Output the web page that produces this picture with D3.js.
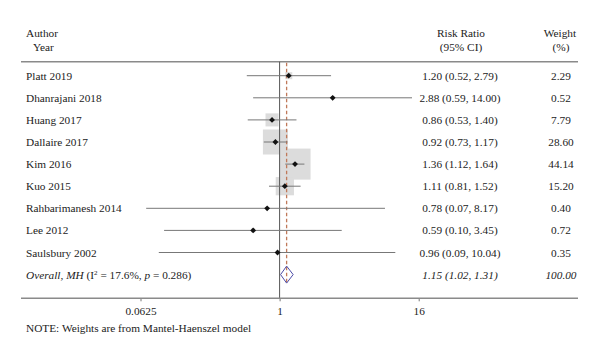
<!DOCTYPE html>
<html><head><meta charset="utf-8">
<script src="https://cdn.jsdelivr.net/npm/d3@7"></script>
<style>body{margin:0;background:#fff}</style>
</head><body>
<svg id="c" width="600" height="357"></svg>
<script>
const studies = ["Platt 2019","Dhanrajani 2018","Huang 2017","Dallaire 2017","Kim 2016","Kuo 2015","Rahbarimanesh 2014","Lee 2012","Saulsbury 2002"];
const rr    = [1.20, 2.88, 0.86, 0.92, 1.36, 1.11, 0.78, 0.59, 0.96];
const lower = [0.52, 0.59, 0.53, 0.73, 1.12, 0.81, 0.07, 0.10, 0.09];
const upper = [2.79, 14.00, 1.40, 1.17, 1.64, 1.52, 8.17, 3.45, 10.04];
const weights = [2.29, 0.52, 7.79, 28.60, 44.14, 15.20, 0.40, 0.72, 0.35];
const overall = {rr:1.15, lower:1.02, upper:1.31, weight:100.00};
const tickValues = [0.0625, 1, 16];
const tickLabels = ["0.0625","1","16"];

const svg = d3.select("#c");
const font = "'Liberation Serif', 'DejaVu Serif', serif";
const fs = 11.3;
const txtCol = "#222";

const x = d3.scaleLog().base(2).domain([0.0625,16]).range([140.5,418.7]);
const rowY = d3.scaleLinear().domain([0,1]).range([75.7,97.8]);
const yAxis = 298.3, yTop = 61.7;
const nRows = studies.length;

function text(t, xx, yy, anchor, style){
  return svg.append("text").attr("x",xx).attr("y",yy).attr("text-anchor",anchor||"start")
    .attr("font-family",font).attr("font-size",fs).attr("fill",txtCol)
    .attr("font-style",style||"normal").text(t);
}

// header
text("Author",26,37);
text("Year",33,51);
text("Risk Ratio",461,37,"middle");
text("(95% CI)",461,51,"middle");
text("Weight",560,37,"middle");
text("(%)",561,51,"middle");

// rules
svg.append("line").attr("x1",21).attr("x2",578).attr("y1",yTop).attr("y2",yTop)
  .attr("stroke","#8a8a8a").attr("stroke-width",1.5);

// boxes
const boxK = 25/Math.sqrt(28.6);
svg.append("g").selectAll("rect").data(studies).join("rect")
  .attr("x",(d,i)=>x(rr[i])-boxK*Math.sqrt(weights[i])/2)
  .attr("y",(d,i)=>rowY(i)-boxK*Math.sqrt(weights[i])/2)
  .attr("width",(d,i)=>boxK*Math.sqrt(weights[i]))
  .attr("height",(d,i)=>boxK*Math.sqrt(weights[i]))
  .attr("fill","#dcdcdc");

// null line
svg.append("line").attr("x1",x(1)).attr("x2",x(1)).attr("y1",yTop).attr("y2",yAxis)
  .attr("stroke","#555").attr("stroke-width",1);
// overall dashed line
svg.append("line").attr("x1",x(overall.rr)).attr("x2",x(overall.rr)).attr("y1",yTop+1).attr("y2",rowY(nRows)+10)
  .attr("stroke","#c0795a").attr("stroke-width",1.3).attr("stroke-dasharray","3.5,2.5");

// CI lines
svg.append("g").selectAll("line").data(studies).join("line")
  .attr("x1",(d,i)=>x(lower[i])).attr("x2",(d,i)=>x(upper[i]))
  .attr("y1",(d,i)=>rowY(i)).attr("y2",(d,i)=>rowY(i))
  .attr("stroke","#777").attr("stroke-width",1);

// point markers
const sym = d3.symbol().type(d3.symbolSquare).size(17);
svg.append("g").selectAll("path").data(studies).join("path")
  .attr("d",sym)
  .attr("transform",(d,i)=>`translate(${x(rr[i])},${rowY(i)}) rotate(45)`)
  .attr("fill","#111");

// overall diamond
const oy = rowY(nRows);
svg.append("path")
  .attr("d",`M${x(overall.lower)},${oy} L${x(overall.rr)},${oy-8.5} L${x(overall.upper)},${oy} L${x(overall.rr)},${oy+8.5} Z`)
  .attr("fill","none").attr("stroke","#4b4ba8").attr("stroke-width",1);

// study labels & values
const f2 = d3.format(".2f");
studies.forEach((s,i)=>{
  const yy = rowY(i)+4;
  text(s,26,yy);
  text(`${f2(rr[i])} (${f2(lower[i])}, ${f2(upper[i])})`,460,yy,"middle");
  text(f2(weights[i]),561,yy,"middle");
});

// overall row label
const ot = svg.append("text").attr("x",26).attr("y",oy+4).attr("font-family",font).attr("font-size",fs).attr("fill",txtCol);
ot.append("tspan").attr("font-style","italic").text("Overall, MH");
ot.append("tspan").text(" (I");
ot.append("tspan").attr("font-size",7).attr("dy",-4).text("2");
ot.append("tspan").attr("dy",4).text(" = 17.6%, ");
ot.append("tspan").attr("font-style","italic").text("p");
ot.append("tspan").text(" = 0.286)");
text(`${f2(overall.rr)} (${f2(overall.lower)}, ${f2(overall.upper)})`,460,oy+4,"middle","italic");
text(f2(overall.weight),561,oy+4,"middle","italic");

// axis
const axis = d3.axisBottom(x).tickValues(tickValues).tickFormat((d,i)=>tickLabels[i]).tickSize(3).tickSizeOuter(0);
const ag = svg.append("g").attr("transform",`translate(0,${yAxis})`).call(axis);
ag.select(".domain").remove();
ag.selectAll(".tick line").attr("stroke","#777");
ag.selectAll(".tick text").attr("font-family",font).attr("font-size",fs).attr("fill",txtCol).attr("dy","0.95em");
svg.append("line").attr("x1",21).attr("x2",578).attr("y1",yAxis).attr("y2",yAxis)
  .attr("stroke","#8a8a8a").attr("stroke-width",1.5);

text("NOTE: Weights are from Mantel-Haenszel model",26,332);
</script>
</body></html>
